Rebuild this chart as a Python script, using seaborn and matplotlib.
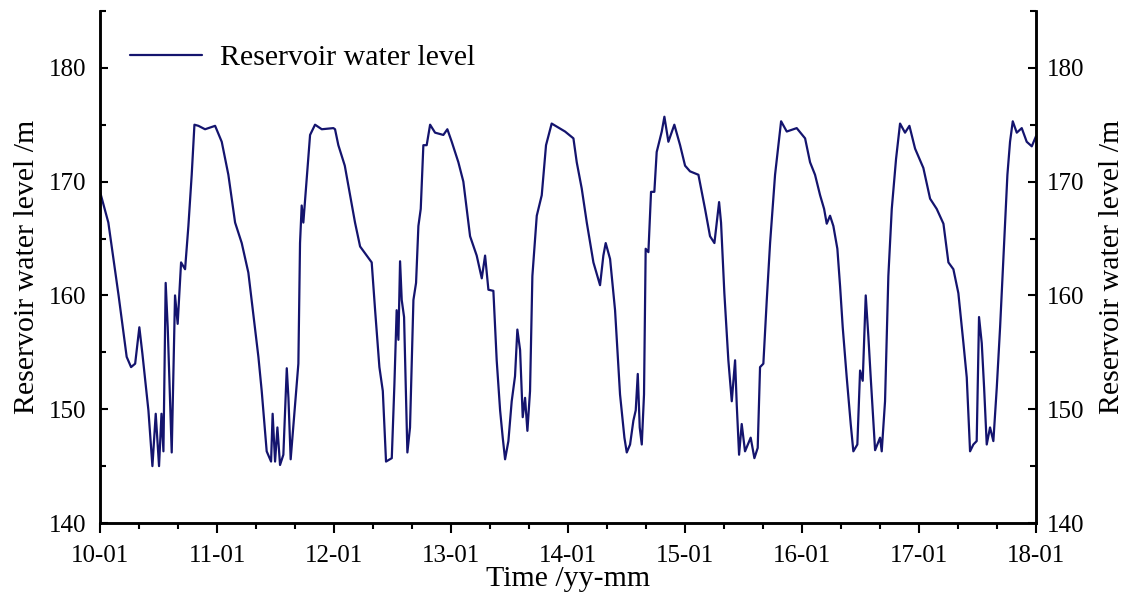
import matplotlib
matplotlib.use("Agg")
import matplotlib.pyplot as plt
from matplotlib.ticker import MultipleLocator, FixedLocator
import seaborn as sns
import numpy as np
import pandas as pd

sns.set_style("ticks", {"axes.edgecolor": "black", "text.color": "black",
                        "xtick.color": "black", "ytick.color": "black",
                        "axes.labelcolor": "black"})
plt.rcParams["font.family"] = ["Liberation Serif", "DejaVu Serif"]

# months since 2010-01 and reservoir level (m)
months = [
    0.0, 0.85, 1.9, 2.73, 3.18, 3.6, 4.03, 4.34, 4.96, 5.37, 5.71, 6.05, 6.3, 6.5,
    6.73, 6.94, 7.35, 7.69, 7.96, 8.31, 8.72, 9.06, 9.4, 9.68, 10.09, 10.77, 11.8,
    12.48, 13.16, 13.85, 14.53, 15.21, 15.9, 16.24, 16.58, 17.09, 17.54, 17.7, 17.95,
    18.19, 18.46, 18.8, 19.15, 19.32, 19.55, 19.93, 20.34, 20.51, 20.68, 20.85, 21.2,
    21.54, 22.05, 22.74, 23.93,
    24.1, 24.44, 25.1, 25.64, 26.15, 26.67, 27.35, 27.86, 28.21, 28.65, 29.0, 29.33,
    29.92, 30.19, 30.42, 30.6, 30.77, 30.94, 31.18, 31.52, 31.79, 32.14, 32.41, 32.65,
    32.89, 33.16, 33.5, 33.85, 34.36, 35.21, 35.62, 36.07, 36.75, 37.26, 37.6, 37.95,
    38.63, 39.15, 39.49, 39.83, 40.34, 40.68, 41.03, 41.3, 41.54, 41.88, 42.22, 42.56,
    42.8, 43.08, 43.35, 43.59, 43.83, 44.1, 44.34, 44.79, 45.3, 45.74, 46.32,
    47.69, 48.55, 48.89, 49.4, 49.92, 50.6, 51.28, 51.62, 51.86, 52.31, 52.82, 53.33,
    53.78, 54.02, 54.36, 54.7, 54.94, 55.15, 55.35, 55.56, 55.79, 55.96, 56.24, 56.51,
    56.85, 57.09, 57.61, 57.88, 58.29, 58.9, 59.49, 60.0, 60.51, 61.37, 62.05, 62.56,
    63.01, 63.25, 63.49, 63.69, 64.03, 64.44, 64.79, 65.13, 65.3, 65.54, 65.81, 66.15,
    66.73, 67.11, 67.45, 67.69, 68.03, 68.38, 68.72, 69.23, 69.85, 70.43, 71.45,
    72.31, 72.82, 73.33, 73.85, 74.26, 74.53, 74.87, 75.21, 75.62, 75.9, 76.17, 76.58,
    76.99, 77.26, 77.67, 77.95, 78.22, 78.53, 78.8, 79.04, 79.49, 80.0, 80.17, 80.51,
    80.85, 81.2, 81.64, 82.05, 82.56, 83.01, 83.59, 84.44, 85.13, 85.81, 86.5, 87.01,
    87.52, 88.03, 88.55, 88.89, 89.23, 89.57, 89.91, 90.15, 90.43, 90.67, 90.94, 91.28,
    91.62, 91.97, 92.31, 92.65, 93.06, 93.33, 93.61, 94.02, 94.53, 95.04, 95.56, 96.0,
]
level = [
    169.1, 166.4, 160.0, 154.6, 153.7, 154.0, 157.2, 154.9, 149.9, 145.0, 149.6, 145.0, 149.6, 146.3,
    161.1, 157.2, 146.2, 160.0, 157.5, 162.9, 162.3, 166.1, 170.6, 175.0, 174.9, 174.6, 174.9,
    173.5, 170.6, 166.4, 164.6, 162.0, 157.0, 154.6, 151.6, 146.3, 145.4, 149.6, 145.4,
    148.4, 145.1, 146.0, 153.6, 151.0, 145.6, 149.6, 154.0, 164.6, 167.9, 166.4, 170.3,
    174.1, 175.0, 174.6, 174.7,
    174.6, 173.2, 171.4, 168.8, 166.4, 164.3, 163.5, 162.9, 158.7, 153.7, 151.6, 145.4,
    145.7, 152.2, 158.7, 156.1, 163.0, 159.6, 158.1, 146.2, 148.4, 159.6, 161.1, 166.1,
    167.6, 173.2, 173.2, 175.0, 174.3, 174.1, 174.6, 173.5, 171.7, 170.0, 167.6, 165.2,
    163.5, 161.5, 163.5, 160.5, 160.4, 154.3, 149.9, 147.5, 145.6, 147.2, 150.7, 152.9,
    157.0, 155.2, 149.3, 151.0, 148.1, 151.6, 161.7, 167.0, 168.8, 173.2, 175.1,
    174.4, 173.8, 171.7, 169.4, 166.4, 162.9, 160.9, 163.5, 164.6, 163.2, 158.7, 151.3,
    147.5, 146.2, 146.9, 149.0, 149.9, 153.1, 148.4, 146.9, 151.3, 164.1, 163.8, 169.1,
    169.1, 172.6, 174.4, 175.7, 173.5, 175.0, 173.2, 171.4, 170.9, 170.6, 167.6, 165.2,
    164.6, 166.4, 168.2, 166.4, 160.2, 154.3, 150.7, 154.3, 150.4, 146.0, 148.7, 146.3,
    147.5, 145.7, 146.6, 153.7, 154.0, 159.6, 164.6, 170.6, 175.3, 174.4, 174.7,
    173.8, 171.7, 170.6, 168.8, 167.6, 166.3, 167.0, 166.1, 164.1, 160.8, 157.2, 152.8,
    148.7, 146.3, 146.9, 153.4, 152.5, 160.0, 156.4, 152.8, 146.4, 147.5, 146.3, 150.7,
    161.7, 167.6, 172.0, 175.1, 174.3, 174.9, 172.9, 171.2, 168.5, 167.6, 166.3, 162.9,
    162.3, 160.2, 155.8, 152.8, 146.3, 146.9, 147.2, 158.1, 155.8, 151.9, 146.9, 148.4,
    147.2, 151.9, 157.2, 163.2, 170.6, 173.5, 175.3, 174.3, 174.7, 173.5, 173.1, 174.0,
]
tick_labels = ["10-01", "11-01", "12-01", "13-01", "14-01", "15-01", "16-01", "17-01", "18-01"]

df = pd.DataFrame({"month": months, "level": level})

fig = plt.figure(figsize=(11.28, 6.05), dpi=100)
ax = fig.add_axes([0.0887, 0.1355, 0.8298, 0.8465])

sns.lineplot(data=df, x="month", y="level", ax=ax, color="#14146e", linewidth=1.6,
             label="Reservoir water level", estimator=None, sort=False)

ax.set_xlim(0, 96)
ax.set_ylim(140, 185)
ax.xaxis.set_major_locator(FixedLocator(np.arange(0, 97, 12)))
ax.xaxis.set_minor_locator(MultipleLocator(4))
ax.set_xticklabels(tick_labels)
ax.yaxis.set_major_locator(FixedLocator([140, 150, 160, 170, 180]))
ax.yaxis.set_minor_locator(MultipleLocator(5))

ax.set_xlabel("Time /yy-mm", fontsize=21.5, labelpad=-1)
ax.set_ylabel("Reservoir water level /m", fontsize=21.5, labelpad=6)

ax2 = ax.twinx()
ax2.set_ylim(140, 185)
ax2.yaxis.set_major_locator(FixedLocator([140, 150, 160, 170, 180]))
ax2.yaxis.set_minor_locator(MultipleLocator(5))
ax2.set_ylabel("Reservoir water level /m", fontsize=21.5, labelpad=10)

for a in (ax, ax2):
    a.spines["top"].set_visible(False)
    for s in a.spines.values():
        s.set_linewidth(1.8)
    a.tick_params(axis="y", which="major", direction="in", length=6, width=1.5,
                  labelsize=18)
    a.tick_params(axis="y", which="minor", direction="in", length=4.5, width=1.5)
ax.tick_params(axis="x", which="major", direction="out", length=7, width=1.5,
               labelsize=18, pad=9)
ax.tick_params(axis="x", which="minor", direction="out", length=4.5, width=1.5)
ax.tick_params(axis="y", which="major", pad=10)
ax2.tick_params(axis="y", which="major", pad=8)

ax.legend(loc="upper left", frameon=False, fontsize=21.5, handlelength=2.4,
          handletextpad=0.6, bbox_to_anchor=(0.01, 0.975), borderaxespad=0.3)

fig.savefig("out.png", dpi=100)
